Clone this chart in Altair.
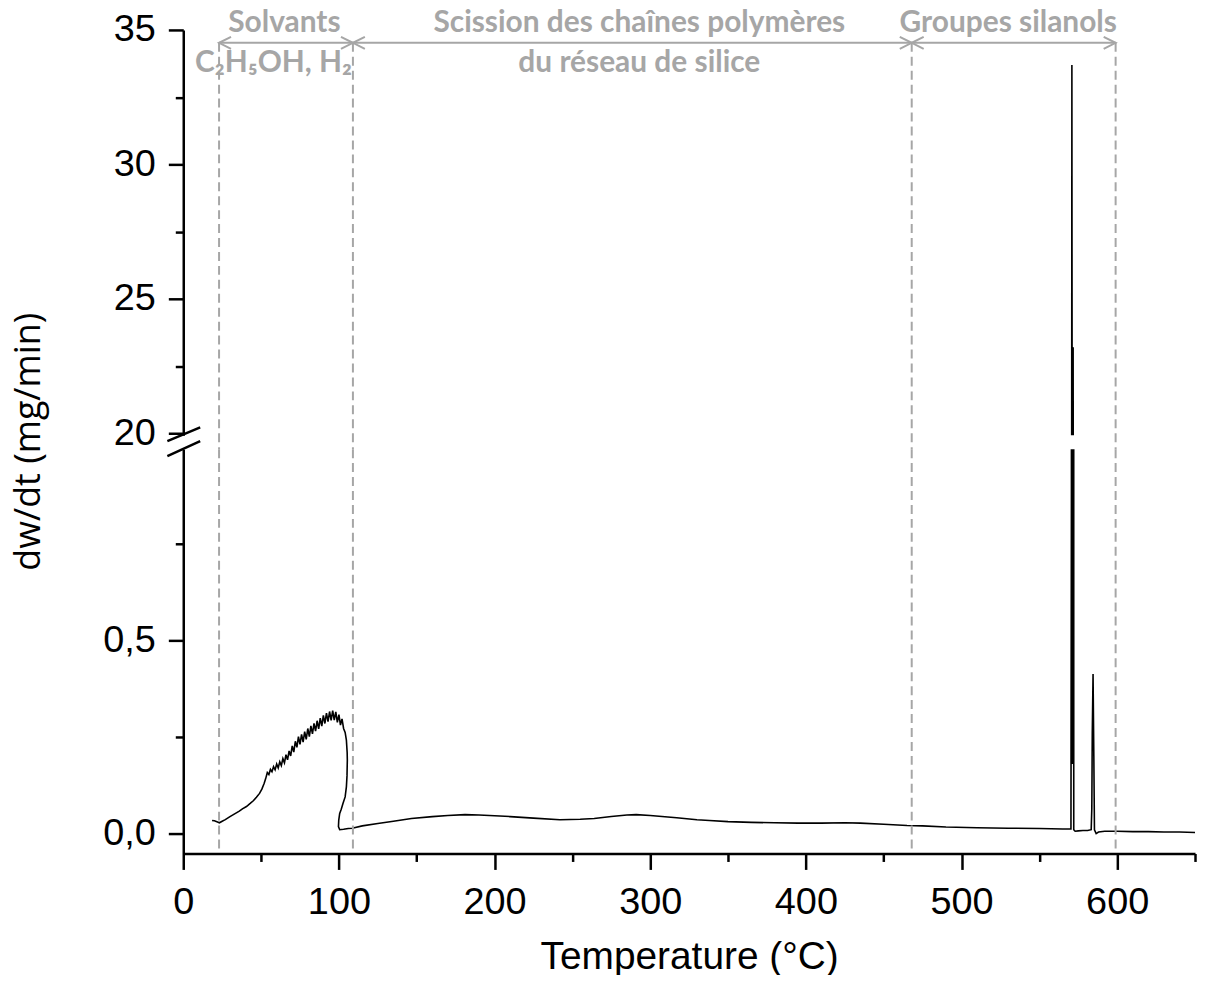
import altair as alt
import pandas as pd

# ---------------- data ----------------
start_T = [18.5, 20, 22, 23.2, 25, 27, 30, 33, 36, 38, 40.6, 43, 45, 47, 49, 50.5, 52, 53]
start_W = [0.034, 0.033, 0.030, 0.028, 0.032, 0.036, 0.044, 0.051, 0.058, 0.064, 0.070, 0.078,
           0.085, 0.094, 0.104, 0.115, 0.130, 0.143]

rise_T = [54, 55, 56, 57, 58, 59, 60, 61, 62, 63, 64, 65, 66, 67, 68, 69, 70, 71, 72, 73, 74, 75,
          76, 77, 78, 79, 80, 81, 82, 83, 84, 85, 86, 87, 88, 89, 90, 91, 92, 93, 94, 95, 96, 97,
          98, 99, 100, 101, 102, 103]
rise_W = [0.158, 0.153, 0.166, 0.160, 0.173, 0.165, 0.180, 0.170, 0.186, 0.176, 0.194, 0.183,
          0.204, 0.191, 0.214, 0.201, 0.227, 0.211, 0.239, 0.223, 0.251, 0.231, 0.257, 0.237,
          0.264, 0.244, 0.272, 0.251, 0.279, 0.258, 0.285, 0.265, 0.292, 0.271, 0.299, 0.278,
          0.306, 0.285, 0.312, 0.290, 0.316, 0.293, 0.318, 0.294, 0.315, 0.288, 0.308, 0.281,
          0.297, 0.272]

fall_T = [104, 104.8, 105.3, 105.4, 105.2, 104.8, 104, 102.6, 101.5, 100.5, 99.9, 99.7, 100.5,
          103, 106, 108.5]
fall_W = [0.262, 0.242, 0.210, 0.190, 0.150, 0.121, 0.095, 0.078, 0.063, 0.052, 0.035, 0.018,
          0.010, 0.011, 0.013, 0.014]

base_T = [115, 125, 135, 146.6, 160, 170, 181, 190, 200, 210, 225, 242, 255, 264, 275, 285, 291,
          300, 317, 330, 338, 350, 365, 380, 395, 410, 425, 435, 450, 465, 475, 490, 510, 530,
          550, 565, 570.3]
base_W = [0.020, 0.026, 0.032, 0.039, 0.044, 0.047, 0.049, 0.048, 0.046, 0.044, 0.040, 0.036,
          0.037, 0.039, 0.044, 0.048, 0.049, 0.047, 0.041, 0.036, 0.034, 0.031, 0.029, 0.028,
          0.027, 0.027, 0.028, 0.027, 0.024, 0.021, 0.020, 0.017, 0.015, 0.014, 0.013, 0.012,
          0.012]

spike_T = [570.6, 570.9, 571.3, 571.7, 572.1, 573, 575, 578, 581, 583.3, 583.7, 584.0, 584.5,
           585.0, 585.4, 586.5, 588, 592, 600, 610, 620, 630, 640, 650]
spike_W = [0.9, 33.7, 0.18, 23.2, 0.010, 0.006, 0.007, 0.008, 0.008, 0.010, 0.065, 0.26, 0.413,
           0.20, 0.010, 0.0, 0.004, 0.006, 0.006, 0.005, 0.005, 0.004, 0.004, 0.003]

region_bounds = [23, 109, 468, 599]
region_titles = ["Solvants", "Scission des chaînes polymères", "Groupes silanols"]
region_title_T = [65, 293, 530]
region_sub = ["C₂H₅OH, H₂", "du réseau de silice"]
region_sub_T = [58, 293]

x_ticks = [0, 50, 100, 150, 200, 250, 300, 350, 400, 450, 500, 550, 600, 650]
top_ticks = [20, 22.5, 25, 27.5, 30, 32.5, 35]
bot_ticks = [0, 0.25, 0.5, 0.75]

# ---------------- tables ----------------
T_all = start_T + rise_T + fall_T + base_T + spike_T
W_all = start_W + rise_W + fall_W + base_W + spike_W
df = pd.DataFrame({"T": T_all, "W": W_all, "i": list(range(len(T_all)))})

X_DOMAIN = [0, 650]
TOP_DOMAIN = [19.93, 35]
BOT_DOMAIN = [-0.0515, 0.995]
GAP_Y = 19.41
ARROW_Y = 34.52
TITLE_Y = 34.93
SUB_Y = 33.44
PW = 1016
H_TOP = 407
H_BOT = 406
GRAY = "#A6A6A6"

bounds_df = pd.DataFrame({"T": region_bounds})
arrows_df = pd.DataFrame({"T": region_bounds[:-1], "T2": region_bounds[1:]})
heads_left = pd.DataFrame({"T": region_bounds[:-1]})
heads_right = pd.DataFrame({"T": region_bounds[1:]})
titles_df = pd.DataFrame({"T": region_title_T, "label": region_titles})
subs_df = pd.DataFrame({"T": region_sub_T, "label": region_sub})
break_df = pd.DataFrame({"T": [0]})

xs = alt.Scale(domain=X_DOMAIN, nice=False, zero=False)
ys_top = alt.Scale(domain=TOP_DOMAIN, nice=False, zero=False)
ys_bot = alt.Scale(domain=BOT_DOMAIN, nice=False, zero=False)

top_axis = alt.Axis(
    values=top_ticks,
    labelExpr="datum.value % 5 === 0 ? format(datum.value, 'd') : ''",
    tickSize={"condition": {"test": "datum.value % 5 === 0", "value": 15}, "value": 8},
    labelPadding=13,
    title="dw/dt (mg/min)",
    titleX=-136, titleY=413, titleAngle=270, titleAlign="center", titleBaseline="bottom",
    titleFont="Open Sans", titleFontSize=36, titleFontWeight="normal",
)
bot_axis = alt.Axis(
    values=bot_ticks,
    labelExpr="datum.value % 0.5 === 0 ? replace(format(datum.value, '.1f'), '.', ',') : ''",
    tickSize={"condition": {"test": "datum.value % 0.5 === 0", "value": 15}, "value": 8},
    labelPadding=13,
    title=None,
)
x_axis = alt.Axis(
    values=x_ticks,
    labelExpr="datum.value % 100 === 0 ? format(datum.value, 'd') : ''",
    tickSize={"condition": {"test": "datum.value % 100 === 0", "value": 16}, "value": 8},
    labelFlush=False, labelOverlap=False, labelPadding=14,
    title="Temperature (°C)", titlePadding=17,
    titleFont="Liberation Sans", titleFontSize=39, titleFontWeight="normal",
)

line_top = alt.Chart(df).mark_line(color="black", strokeWidth=1.6, clip=True).encode(
    x=alt.X("T:Q", scale=xs, axis=None),
    y=alt.Y("W:Q", scale=ys_top, axis=top_axis),
    order="i:Q",
)
dash_top = alt.Chart(bounds_df).mark_rule(color=GRAY, strokeWidth=2, strokeDash=[9, 5]).encode(
    x="T:Q", y=alt.datum(ARROW_Y), y2=alt.datum(GAP_Y)
)
arrows = alt.Chart(arrows_df).mark_rule(color=GRAY, strokeWidth=2).encode(
    x="T:Q", x2="T2:Q", y=alt.datum(ARROW_Y)
)
hl = alt.Chart(heads_left).mark_point(
    shape="M 1 -0.5 L 0 0 L 1 0.5", size=576, filled=False, stroke=GRAY, strokeWidth=2, opacity=1
).encode(x="T:Q", y=alt.datum(ARROW_Y))
hr = alt.Chart(heads_right).mark_point(
    shape="M -1 -0.5 L 0 0 L -1 0.5", size=576, filled=False, stroke=GRAY, strokeWidth=2, opacity=1
).encode(x="T:Q", y=alt.datum(ARROW_Y))
txt_title = alt.Chart(titles_df).mark_text(
    font="Lato", fontWeight="bold", fontSize=30, color=GRAY, baseline="alphabetic", align="center"
).encode(x="T:Q", y=alt.datum(TITLE_Y), text="label:N")
txt_sub = alt.Chart(subs_df).mark_text(
    font="Lato", fontWeight="bold", fontSize=30, color=GRAY, baseline="alphabetic", align="center"
).encode(x="T:Q", y=alt.datum(SUB_Y), text="label:N")
brk = alt.Chart(break_df).mark_point(
    shape="M -0.94 0.35 L 1 -0.47 M -0.94 1.24 L 1 0.35", size=1156, filled=False,
    stroke="black", strokeWidth=2.5, opacity=1
).encode(x="T:Q", y=alt.datum(TOP_DOMAIN[0]))

top = alt.layer(line_top, dash_top, arrows, hl, hr, txt_title, txt_sub, brk).properties(
    width=PW, height=H_TOP
)

line_bot = alt.Chart(df).mark_line(color="black", strokeWidth=1.6, clip=True).encode(
    x=alt.X("T:Q", scale=xs, axis=x_axis),
    y=alt.Y("W:Q", scale=ys_bot, axis=bot_axis),
    order="i:Q",
)
dash_bot = alt.Chart(bounds_df).mark_rule(color=GRAY, strokeWidth=2, strokeDash=[9, 5]).encode(
    x=alt.X("T:Q", scale=xs, axis=x_axis), y=alt.datum(BOT_DOMAIN[1]), y2=alt.datum(BOT_DOMAIN[0])
)
bottom = alt.layer(line_bot, dash_bot).properties(width=PW, height=H_BOT)

chart = alt.vconcat(top, bottom, spacing=14, bounds="flush").properties(
    padding={"left": 3, "top": -3, "right": 0, "bottom": -4}
).configure_view(stroke=None).configure_axis(
    grid=False, domainColor="black", domainWidth=2.5, tickColor="black", tickWidth=2.5,
    labelColor="black", labelFont="Liberation Sans", labelFontSize=38,
    titleColor="black",
)

chart.save("out.html", embed_options={"renderer": "svg", "actions": False})
